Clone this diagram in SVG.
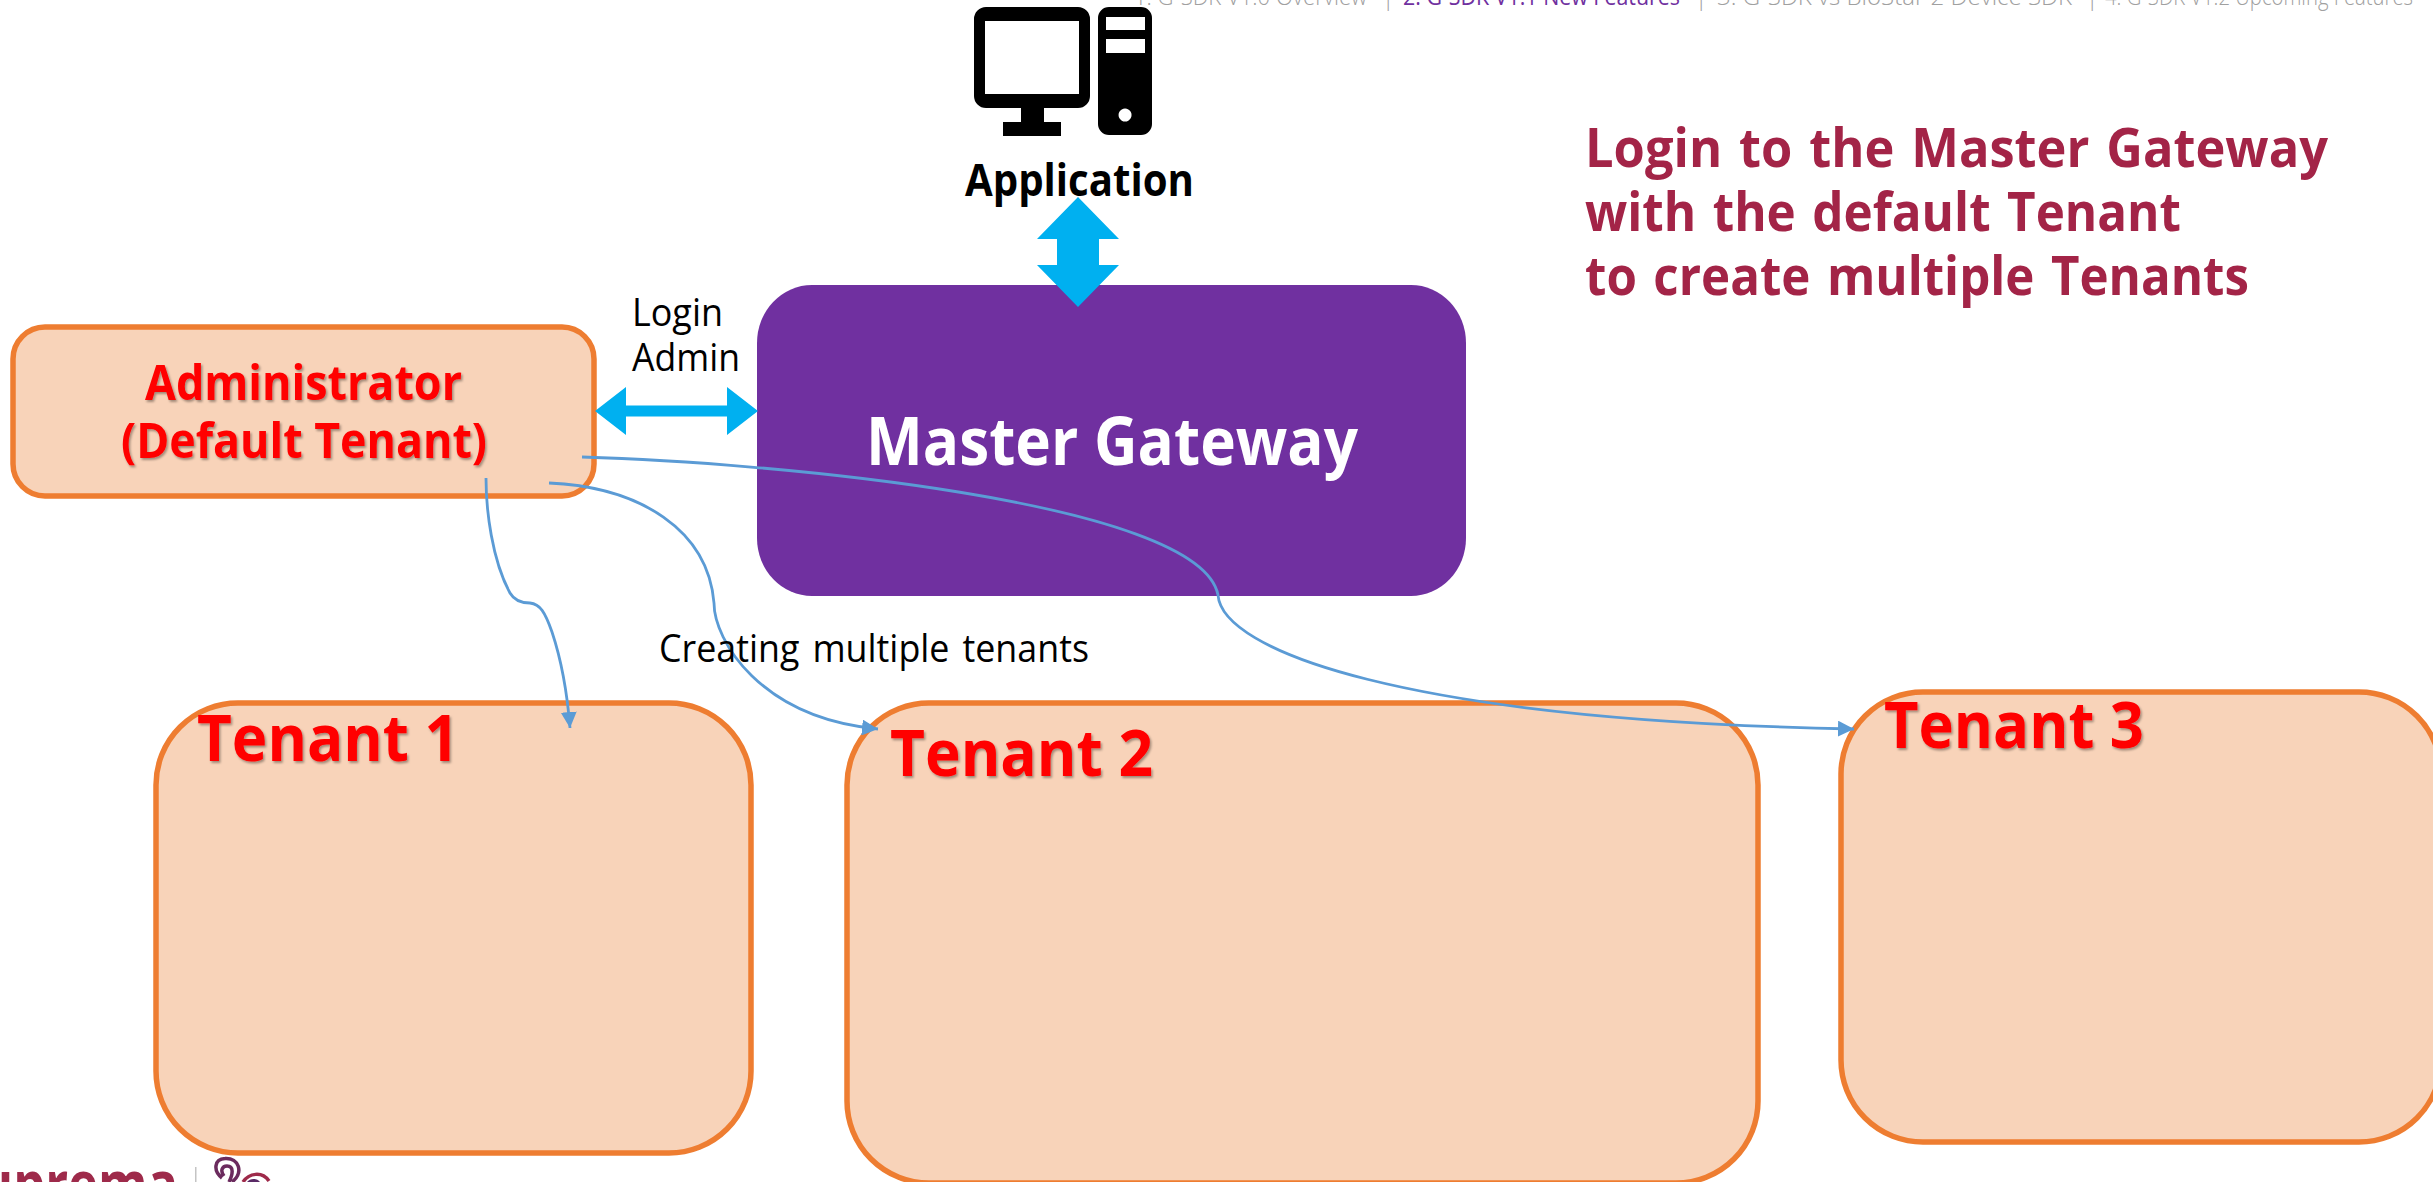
<svg xmlns="http://www.w3.org/2000/svg" width="2433" height="1182" viewBox="0 0 2433 1182">
<defs>
<style>
text{font-family:"Open Sans","Noto Sans",sans-serif}
.box{fill:#f8d3b9;stroke:#ee7d31;stroke-width:5.500}
.red{fill:#f00;font-weight:700;filter:url(#sh)}
.lbl{fill:#000;font-size:38px}
.thin{fill:none;stroke:#5b9bd5;stroke-width:2.800;marker-end:url(#ah)}
.blue{fill:#00b0f0}
.hd{font-size:23px;fill:#a0a0a0;font-weight:300}
.hp{font-size:23px;fill:#7030a0}
</style>
<filter id="sh" x="-5%" y="-5%" width="110%" height="115%"><feDropShadow dx="1.500" dy="2" stdDeviation="1" flood-color="#000" flood-opacity=".35"/></filter>
<marker id="ah" markerWidth="16" markerHeight="16" refX="16" refY="8" orient="auto" markerUnits="userSpaceOnUse" viewBox="0 0 16 16"><path d="M0 0L16 8L0 16Z" fill="#5b9bd5"/></marker>
</defs>
<rect width="2433" height="1182" fill="#fff"/>
<g id="header">
<text class="hd" x="1134" y="5" textLength="233" lengthAdjust="spacingAndGlyphs">1. G-SDK V1.0 Overview</text>
<text class="hd" x="1382" y="5">|</text>
<text class="hp" x="1403" y="5" textLength="277" lengthAdjust="spacingAndGlyphs">2. G-SDK V1.1 New Features</text>
<text class="hd" x="1695" y="5">|</text>
<text class="hd" x="1717" y="5" textLength="355" lengthAdjust="spacingAndGlyphs">3. G-SDK vs BioStar 2 Device SDK</text>
<text class="hd" x="2086" y="5">|</text>
<text class="hd" x="2105" y="5" textLength="308" lengthAdjust="spacingAndGlyphs">4. G-SDK V1.2 Upcoming Features</text>
</g>
<g id="logo">
<text x="-45" y="1206" font-size="62" fill="#9e2a4a" font-weight="700" textLength="223" lengthAdjust="spacingAndGlyphs">suprema</text>
<rect x="195" y="1167" width="1.500" height="15" fill="#c4c4c4"/>
<path d="M222 1178c-9-7-8-19 3-19.500c14-1 19 14 7 23.500M224 1176c-4-5-2-10 3-10c7 0 6 8 2 16" fill="none" stroke="#6b2b5e" stroke-width="3.500"/>
<path d="M243 1182c6-9 19-11 26-1" fill="none" stroke="#9e2a4a" stroke-width="3.500"/>
<path d="M247 1182c3-4 10-4 13 0z" fill="#5a2a66"/>
</g>
<g id="application">
<path fill-rule="evenodd" d="M986 7h92a12 12 0 0 1 12 12v77a12 12 0 0 1-12 12h-34v14h17v14H1003v-14h18v-14h-35a12 12 0 0 1-12-12V19a12 12 0 0 1 12-12zM985 21v73h94V21z"/>
<path fill-rule="evenodd" d="M1109 7h32a11 11 0 0 1 11 11v106a11 11 0 0 1-11 11h-32a11 11 0 0 1-11-11V18a11 11 0 0 1 11-11zM1106 17v13h39V17zM1106 39v14h39V39zM1125 108.500a6.500 6.500 0 1 0 .1 0z"/>
<text x="965" y="196" font-size="44" font-weight="700" textLength="229" lengthAdjust="spacingAndGlyphs">Application</text>
</g>
<g id="note"><g fill="#a32447" font-size="54" font-weight="700" word-spacing="4">
<text x="1585" y="167" textLength="743" lengthAdjust="spacingAndGlyphs">Login to the Master Gateway</text>
<text x="1585" y="231" textLength="596" lengthAdjust="spacingAndGlyphs">with the default Tenant</text>
<text x="1585" y="295" textLength="664" lengthAdjust="spacingAndGlyphs">to create multiple Tenants</text></g></g>
<g id="master-gateway"><rect x="757" y="285" width="709" height="311" rx="55" ry="58" fill="#7030a0"/>
<text x="866" y="465" font-size="66" font-weight="700" fill="#fff" textLength="492" lengthAdjust="spacingAndGlyphs">Master Gateway</text></g>
<g id="administrator"><rect class="box" x="13" y="327" width="581" height="169" rx="32"/>
<text class="red" x="145" y="400" font-size="48" textLength="317" lengthAdjust="spacingAndGlyphs">Administrator</text>
<text class="red" x="121" y="458" font-size="48" textLength="366" lengthAdjust="spacingAndGlyphs">(Default Tenant)</text></g>
<g id="tenant-1"><rect class="box" x="156" y="703" width="595" height="450" rx="82"/>
<text class="red" x="197" y="761" font-size="65" textLength="262" lengthAdjust="spacingAndGlyphs">Tenant 1</text></g>
<g id="tenant-2"><rect class="box" x="847" y="703" width="911" height="480" rx="82"/>
<text class="red" x="890" y="776" font-size="65" textLength="263" lengthAdjust="spacingAndGlyphs">Tenant 2</text></g>
<g id="tenant-3"><rect class="box" x="1841" y="692" width="600" height="450" rx="82"/>
<text class="red" x="1884" y="748" font-size="65" textLength="260" lengthAdjust="spacingAndGlyphs">Tenant 3</text></g>
<g id="connectors">
<path class="blue" d="M1078 197l41 42h-20v26h20l-41 42l-41-42h20v-26h-20z"/>
<path class="blue" d="M595 411l31-24v18.500h101V387l31 24l-31 24V416.500H626V435z"/>
<path class="thin" d="M486 478C486 510 492 560 510 593C514 600 520 603 530 603C540 604 545 612 552 632C562 662 567 690 570 728"/>
<path class="thin" d="M549 483C640 487 708 530 714 603C714 640 760 718 878 729"/>
<path class="thin" d="M582 457C760 462 1200 500 1218 595C1222 650 1400 720 1854 729"/>
</g>
<g id="connector-labels">
<text class="lbl" x="632" y="326" textLength="91" lengthAdjust="spacingAndGlyphs">Login</text>
<text class="lbl" x="632" y="371" textLength="108" lengthAdjust="spacingAndGlyphs">Admin</text>
<text class="lbl" x="659" y="662" textLength="430" lengthAdjust="spacingAndGlyphs" word-spacing="4">Creating multiple tenants</text>
</g>
</svg>
